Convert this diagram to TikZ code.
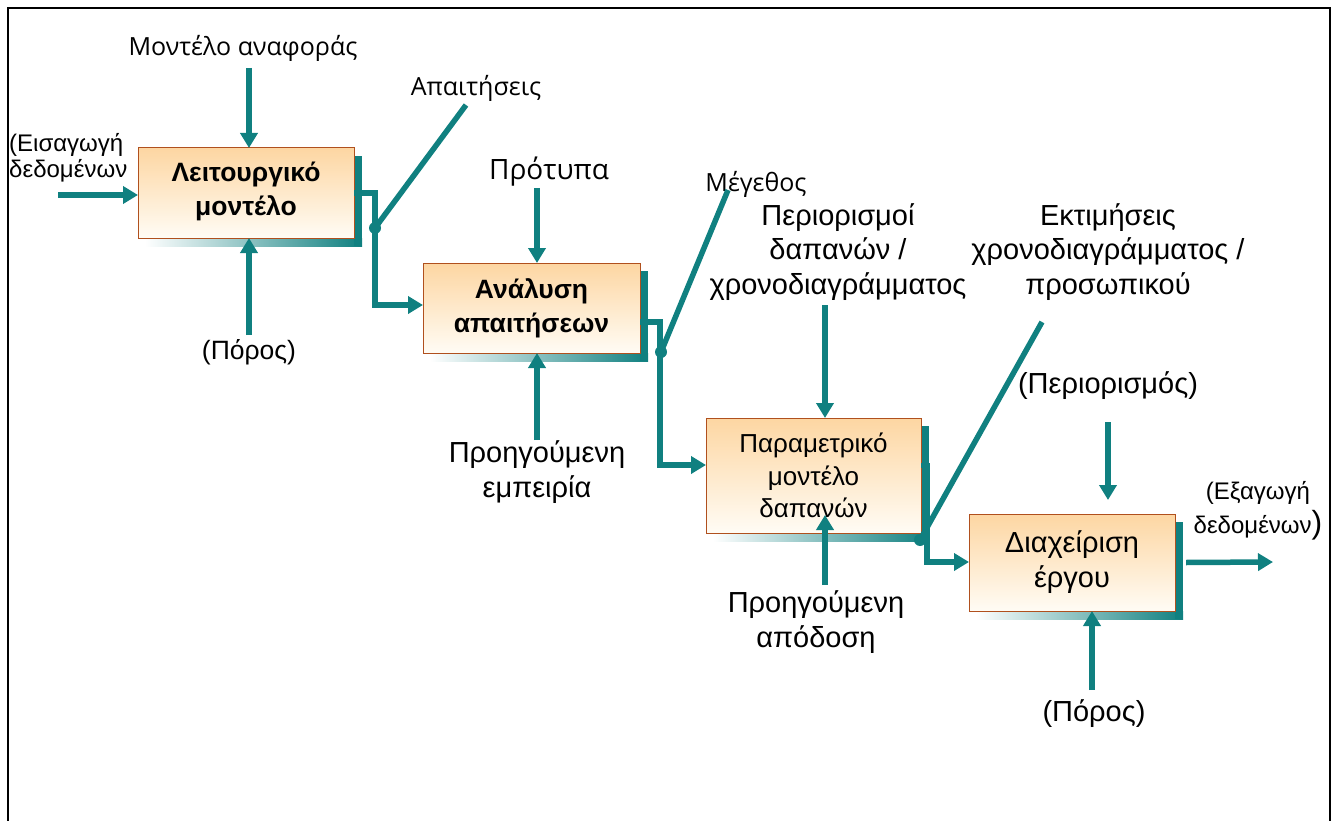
\documentclass[tikz,border=0pt]{standalone}
\usepackage{fontspec}
\setmainfont{Liberation Sans}
\newfontfamily\segoe{Open Sans}
\usetikzlibrary{arrows.meta,backgrounds,calc}
\definecolor{teal1}{RGB}{16,128,128}
\definecolor{boxtop}{RGB}{253,214,162}
\definecolor{boxbot}{RGB}{255,252,245}
\definecolor{boxedge}{RGB}{176,80,30}
\tikzset{
  blk/.style={draw=boxedge,line width=1pt,top color=boxtop,bottom color=boxbot,
    inner sep=0pt,outer sep=0pt,align=center,font=\fontsize{26.5}{34}\selectfont},
  lbl/.style={inner sep=0pt,align=center,font=\fontsize{29}{34.5}\selectfont},
  olbl/.style={inner sep=0pt,align=center,font=\segoe\fontsize{25}{30}\selectfont},
  slbl/.style={inner sep=0pt,align=center,font=\fontsize{24}{26}\selectfont},
  flow/.style={draw=teal1,line width=5.5pt,-{Triangle[length=15pt,width=17pt]}},
  link/.style={draw=teal1,line width=5.5pt},
  jdot/.style={circle,fill=teal1,inner sep=0pt,minimum size=12pt},
}
\newcommand{\shadowof}[1]{%
  \shade[left color=white,right color=teal1] ($(#1.south west)+(7,0)$) rectangle ($(#1.south east)+(8,8)$);
  \fill[teal1] ($(#1.north east)+(0,8)$) rectangle ($(#1.south east)+(8,8)$);
}
\begin{document}
\begin{tikzpicture}[x=1pt,y=-1pt]
\useasboundingbox (0,0) rectangle (1338,821);
\draw[line width=2pt] (8,830) -- (8,8) -- (1330,8) -- (1330,830);

% boxes
\node[blk,minimum width=216pt,minimum height=90pt,text depth=8pt] (b1) at (246,193) {\bfseries Λειτουργικό\\\bfseries μοντέλο};
\node[blk,minimum width=217pt,minimum height=90pt] (b2) at (531.5,308) {\bfseries Ανάλυση\\\bfseries απαιτήσεων};
\node[blk,minimum width=215pt,minimum height=115pt,font=\fontsize{26}{32.5}\selectfont] (b3) at (813.5,475.5) {Παραμετρικό\\μοντέλο\\δαπανών};
\node[blk,minimum width=206pt,minimum height=97pt,font=\fontsize{29}{35}\selectfont] (b4) at (1072,562.5) {Διαχείριση\\έργου};
\begin{scope}[on background layer]
\shadowof{b1}
\shadowof{b2}
\shadowof{b3}
\shadowof{b4}
\end{scope}

% labels
\node[olbl] (lref) at (243,48) {Μοντέλο αναφοράς};
\node[olbl] (lreq) at (476,88) {Απαιτήσεις};
\node[slbl,anchor=west,align=left] (lin) at (9,158) {(Εισαγωγή\\δεδομένων};
\node[lbl,font=\fontsize{26.5}{34}\selectfont] (lres1) at (249,352) {(Πόρος)};
\node[olbl,font=\segoe\fontsize{28}{30}\selectfont] (lstd) at (549,172) {Πρότυπα};
\node[olbl] (lsize) at (756,184) {Μέγεθος};
\node[lbl] (lcons) at (838,252) {Περιορισμοί\\δαπανών /\\χρονοδιαγράμματος};
\node[lbl] (lest) at (1108,252) {Εκτιμήσεις\\χρονοδιαγράμματος /\\προσωπικού};
\node[lbl] (lexp) at (537,472) {Προηγούμενη\\εμπειρία};
\node[lbl] (lperf) at (816,622) {Προηγούμενη\\απόδοση};
\node[lbl] (llim) at (1108,386) {(Περιορισμός)};
\node[lbl] (lres2) at (1094,714) {(Πόρος)};
\node[slbl,font=\fontsize{24}{34}\selectfont] (lout) at (1258,511) {(Εξαγωγή\\δεδομένων{\fontsize{32}{32}\selectfont)}};

% coordinates
\coordinate (c1) at (249,68);
\coordinate (c2) at (58,195);
\coordinate (c3) at (249,335);
\coordinate (c4) at (537,188);
\coordinate (c5) at (537,440);
\coordinate (c6) at (825,305);
\coordinate (c7) at (825,585);
\coordinate (c7e) at (825,515);
\coordinate (c8) at (1108,422);
\coordinate (c8e) at (1108,500);
\coordinate (c9) at (1092,690);
\coordinate (c10) at (1273,562);
\coordinate (t1) at (466,105);
\coordinate (t2) at (728,190);
\coordinate (t3) at (1042,322);

% box 1
\draw[flow] (c1) -- (b1.north -| c1);
\draw[flow] (c2) -- (b1.west |- c2);
\draw[flow] (c3) -- (b1.south -| c3);
\draw[flow] (b1.east) -- ++(21,0) |- (b2.west |- 0,305);
\node[jdot] (d1) at (375,228) {};
\draw[link] (d1.center) -- (t1);

% box 2
\draw[flow] (c4) -- (b2.north -| c4);
\draw[flow] (c5) -- (b2.south -| c5);
\draw[flow] ([yshift=-14pt]b2.east) -- ++(20,0) |- (b3.west |- 0,465);
\node[jdot] (d2) at (661,352) {};
\draw[link] (d2.center) -- (t2);

% box 3
\draw[flow] (c6) -- (b3.north -| c6);
\draw[flow] (c7) -- (c7e);
\draw[flow] ([yshift=10pt]b3.east) -- ++(6,0) |- (b4.west |- 0,562);
\node[jdot] (d3) at (920,540) {};
\draw[link] (d3.center) -- (t3);

% box 4
\draw[flow] (c8) -- (c8e);
\draw[flow] (c9) -- (b4.south -| c9);
\draw[flow] ([xshift=11pt]b4.east) -- (c10);
\end{tikzpicture}
\end{document}
